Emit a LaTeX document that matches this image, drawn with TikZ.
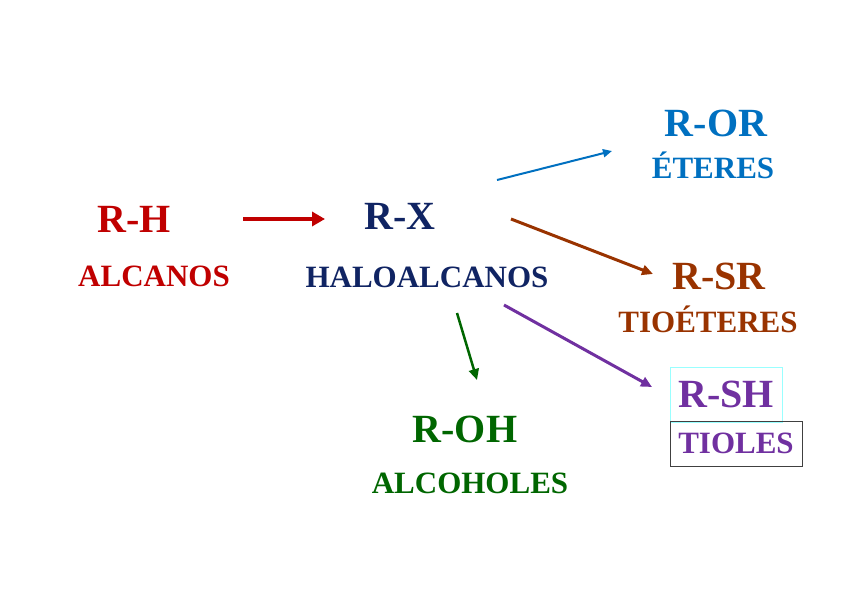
\documentclass[tikz,border=0pt]{standalone}
\usepackage{fontspec}
\setmainfont{Liberation Serif}
\usetikzlibrary{arrows.meta}
\definecolor{cred}{HTML}{C00000}
\definecolor{cnavy}{HTML}{102463}
\definecolor{cblue}{HTML}{0070C0}
\definecolor{cbrown}{HTML}{993300}
\definecolor{cgreen}{HTML}{006600}
\definecolor{cpurple}{HTML}{7030A0}
\definecolor{ccyan}{HTML}{99FFFF}
\tikzset{
  big/.style={inner sep=0pt, anchor=base, font=\bfseries\fontsize{40}{40}\selectfont},
  small/.style={inner sep=0pt, anchor=base, font=\bfseries\fontsize{31}{31}\selectfont},
  conn/.style={-{Triangle[length=11pt,width=10pt]}, line width=2.5pt},
}
\begin{document}
\begin{tikzpicture}[x=1pt,y=-1pt]
\useasboundingbox (0,0) rectangle (848,599);
% labels
\node[big, text=cred] (rh) at (134,232) {R-H};
\node[small, text=cred] (alc) at (154,286) {ALCANOS};
\node[big, text=cnavy] (rx) at (400,229) {R-X};
\node[small, text=cnavy] (halo) at (427,287) {HALOALCANOS};
\node[big, text=cblue] (ror) at (716,136) {R-OR};
\node[small, text=cblue] (eter) at (713,178) {ÉTERES};
\node[big, text=cbrown] (rsr) at (719,289) {R-SR};
\node[small, text=cbrown] (tioe) at (708,332) {TIOÉTERES};
\node[big, text=cgreen] (roh) at (465,442) {R-OH};
\node[small, text=cgreen] (alco) at (470,493) {ALCOHOLES};
\node[draw=ccyan, line width=0.8pt, minimum width=112pt, minimum height=55pt, inner sep=0pt,
      text=cpurple, font=\bfseries\fontsize{40}{40}\selectfont] (rsh) at (726,394.5) {R-SH};
\node[draw=black!75, line width=1pt, minimum width=132pt, minimum height=45pt, inner sep=0pt,
      text=cpurple, font=\bfseries\fontsize{31}{31}\selectfont] (tiol) at (736,443.5) {TIOLES};
% connector end points
\coordinate (a1) at (243,219); \coordinate (a2) at (325,219);
\coordinate (b1) at (497,180); \coordinate (b2) at (612,151);
\coordinate (c1) at (511,219); \coordinate (c2) at (653,274);
\coordinate (d1) at (457,313); \coordinate (d2) at (477,380);
\coordinate (e1) at (504,305); \coordinate (e2) at (652,387);
% connectors
\draw[conn, cred, line width=4pt, -{Triangle[length=13pt,width=14pt]}] (a1) -- (a2);
\draw[conn, cblue, line width=2pt, -{Triangle[length=9pt,width=8pt]}] (b1) -- (b2);
\draw[conn, cbrown, line width=3pt] (c1) -- (c2);
\draw[conn, cgreen, line width=2.5pt] (d1) -- (d2);
\draw[conn, cpurple, line width=3pt] (e1) -- (e2);
\end{tikzpicture}
\end{document}
